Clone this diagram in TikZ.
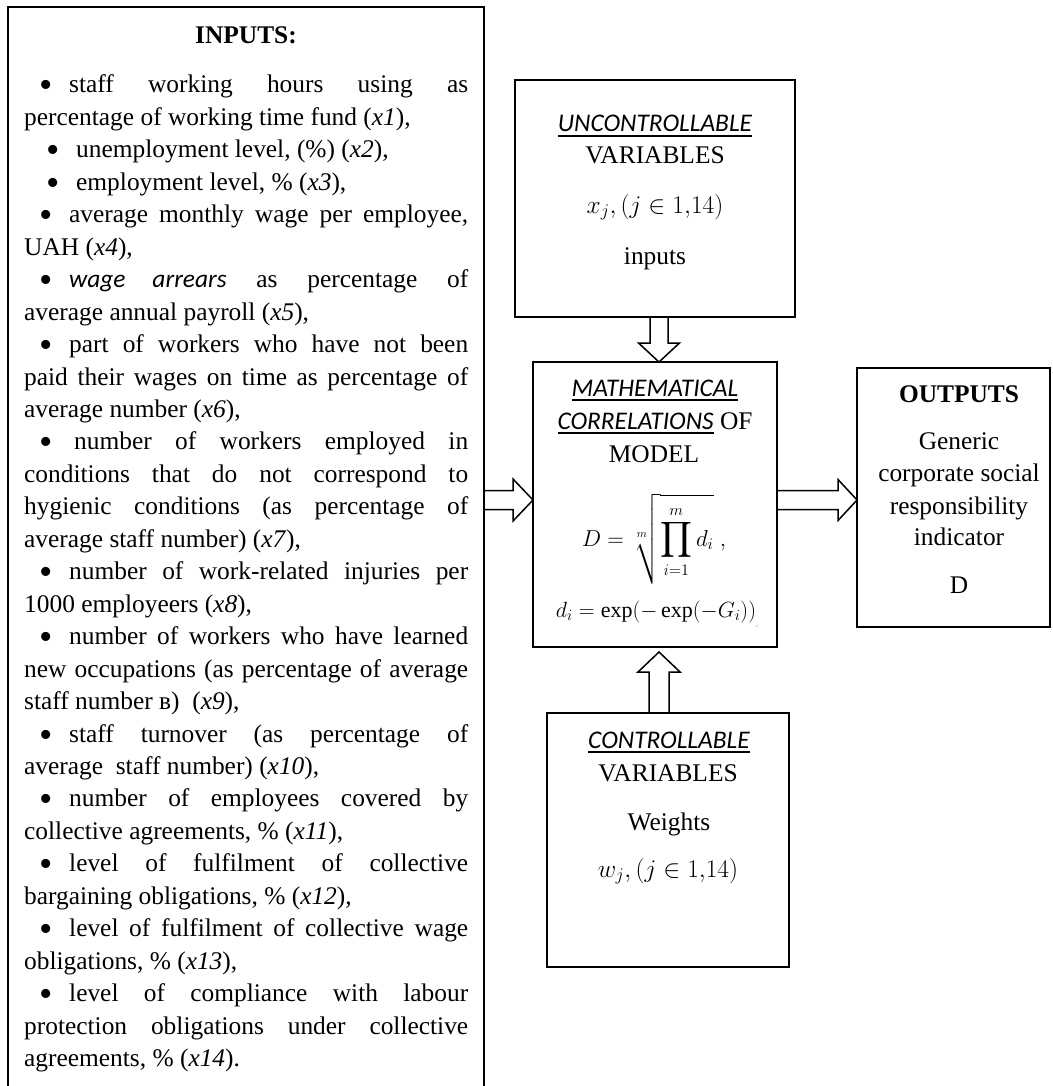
\RequirePackage{fix-cm}
\documentclass[tikz,border=0pt]{standalone}
\usepackage{amsmath}
\usepackage{exscale}
\usepackage{fontspec}
\setmainfont{Liberation Serif}
\newfontfamily\calib{Carlito}
\usetikzlibrary{calc}

\newcommand\jl[1]{\makebox[444pt][s]{#1}}
\newcommand\bul[1]{\hspace*{#1}\makebox[30pt][l]{\raisebox{-5pt}{\fontsize{38}{38}\selectfont\textbullet}}}
\newcommand\ulc[1]{\setbox0\hbox{#1}\rlap{\rule[-5pt]{\wd0}{1.6pt}}\box0\relax}
\newcommand\cit[1]{{\calib\itshape #1}}

% hollow block arrows: #1 start, #2 tip, #3 shaft half width, #4 head half width, #5 head length
\newcommand\arrowright[5]{\draw[hollow] ($(#1)+(0,-#3)$) -- ($(#2)+(-#5,-#3)$) -- ($(#2)+(-#5,-#4)$) -- (#2) -- ($(#2)+(-#5,#4)$) -- ($(#2)+(-#5,#3)$) -- ($(#1)+(0,#3)$);}
\newcommand\arrowdown[5]{\draw[hollow] ($(#1)+(-#3,0)$) -- ($(#2)+(-#3,-#5)$) -- ($(#2)+(-#4,-#5)$) -- (#2) -- ($(#2)+(#4,-#5)$) -- ($(#2)+(#3,-#5)$) -- ($(#1)+(#3,0)$);}
\newcommand\arrowup[5]{\draw[hollow] ($(#1)+(-#3,0)$) -- ($(#2)+(-#3,#5)$) -- ($(#2)+(-#4,#5)$) -- (#2) -- ($(#2)+(#4,#5)$) -- ($(#2)+(#3,#5)$) -- ($(#1)+(#3,0)$);}

\tikzset{
  box/.style={draw, line width=2pt, inner sep=0pt, outer sep=0pt, anchor=north west},
  hollow/.style={draw, fill=white, line width=1.5pt, line join=miter},
  ct/.style={anchor=base, inner sep=0pt, font=\fontsize{25.4}{30}\selectfont},
  lt/.style={anchor=base west, inner sep=0pt, font=\fontsize{25.4}{30}\selectfont},
}

\begin{document}
\begin{tikzpicture}[x=1pt,y=-1pt]
\useasboundingbox (0,0) rectangle (1052,1086);

% helper coordinates
\coordinate (ya) at (0,500);
\coordinate (xa) at (659,0);
\coordinate (uptip) at (659,652);

% boxes (positions)
\path (8,7) node[box, draw=none, minimum width=476pt, minimum height=1090pt] (inputs) {};
\path (515,80) node[box, draw=none, minimum width=280pt, minimum height=237pt] (unc) {};
\path (533,362) node[box, draw=none, minimum width=244pt, minimum height=285pt] (math) {};
\path (857,368) node[box, draw=none, minimum width=193pt, minimum height=259pt] (out) {};
\path (547,713) node[box, draw=none, minimum width=242pt, minimum height=254pt] (ctrl) {};

% arrows
\arrowright{inputs.east |- ya}{math.west |- ya}{9.5}{21}{20}
\arrowright{math.east |- ya}{out.west |- ya}{9.5}{20.5}{19}
\arrowdown{xa |- unc.south}{xa |- math.north}{9}{20.5}{19}
\arrowup{xa |- ctrl.north}{uptip}{10}{21}{20}

% box borders
\draw[line width=2pt] (inputs.north west) rectangle (inputs.south east);
\draw[line width=2pt] (unc.north west) rectangle (unc.south east);
\draw[line width=2pt] (math.north west) rectangle (math.south east);
\draw[line width=2pt] (out.north west) rectangle (out.south east);
\draw[line width=2pt] (ctrl.north west) rectangle (ctrl.south east);

% INPUTS box text
\node[ct] (title) at (246,44) {\textbf{INPUTS:}};
\foreach \t [count=\k from 0] in {
  {\jl{\bul{15pt}staff working hours using as}},
  {percentage of working time fund (\textit{x1}),},
  {\bul{22pt}unemployment level, (\%) (\textit{x2}),},
  {\bul{22pt}employment level, \% (\textit{x3}),},
  {\jl{\bul{15pt}average monthly wage per employee,}},
  {UAH (\textit{x4}),},
  {\jl{\bul{15pt}\cit{wage arrears} as percentage of}},
  {average annual payroll (\textit{x5}),},
  {\jl{\bul{15pt}part of workers who have not been}},
  {\jl{paid their wages on time as percentage of}},
  {average number (\textit{x6}),},
  {\jl{\bul{15pt}\hspace*{5pt}number of workers employed in}},
  {\jl{conditions that do not correspond to}},
  {\jl{hygienic conditions (as percentage of}},
  {average staff number) (\textit{x7}),},
  {\jl{\bul{15pt}number of work-related injuries per}},
  {1000 employeers (\textit{x8}),},
  {\jl{\bul{15pt}number of workers who have learned}},
  {\jl{new occupations (as percentage of average}},
  {staff number в)\ \ (\textit{x9}),},
  {\jl{\bul{15pt}staff turnover (as percentage of}},
  {average\ \ staff number) (\textit{x10}),},
  {\jl{\bul{15pt}number of employees covered by}},
  {collective agreements, \% (\textit{x11}),},
  {\jl{\bul{15pt}level of fulfilment of collective}},
  {bargaining obligations, \% (\textit{x12}),},
  {\jl{\bul{15pt}level of fulfilment of collective wage}},
  {obligations, \% (\textit{x13}),},
  {\jl{\bul{15pt}level of compliance with labour}},
  {\jl{protection obligations under collective}},
  {agreements, \% (\textit{x14}).}
} {
  \node[lt] (l\k) at (24,{93+32.45*\k}) {\t};
}

% UNCONTROLLABLE box
\node[ct] (u1) at (655,132) {\ulc{\cit{UNCONTROLLABLE}}};
\node[ct] (u2) at (655,164) {VARIABLES};
\node[ct] (u3) at (655,213) {$x_j, (j \in 1{,}14)$};
\node[ct] (u4) at (655,264) {inputs};

% MATHEMATICAL box
\node[ct] (m1) at (655,396) {\ulc{\cit{MATHEMATICAL}}};
\node[ct] (m2) at (655,429) {\ulc{\cit{CORRELATIONS}} OF};
\node[ct] (m3) at (654,462) {MODEL};
\node[ct, font=\fontsize{23}{27}\selectfont] (m4) at (654,546) {$\displaystyle D=\sqrt[m]{\displaystyle\prod_{i=1}^{m} d_i}\;,$};
\node[ct, font=\fontsize{22}{26}\selectfont] (m5) at (656,617) {$d_i=\exp(-\exp(-G_i))$};
\node[anchor=base, inner sep=0pt, text=brown!70!black, font=\fontsize{7}{8}\selectfont] (m6) at (757,626) {,};

% OUTPUTS box
\node[ct] (o1) at (959,402) {\textbf{OUTPUTS}};
\node[ct] (o2) at (959,449) {Generic};
\node[ct] (o3) at (959,481) {corporate social};
\node[ct] (o4) at (959,514) {responsibility};
\node[ct] (o5) at (959,545) {indicator};
\node[ct] (o6) at (959,593) {D};

% CONTROLLABLE box
\node[ct] (c1) at (669,748) {\ulc{\cit{CONTROLLABLE}}};
\node[ct] (c2) at (668,781) {VARIABLES};
\node[ct] (c3) at (669,830) {Weights};
\node[ct] (c4) at (668,877) {$w_j, (j \in 1{,}14)$};
\end{tikzpicture}
\end{document}
